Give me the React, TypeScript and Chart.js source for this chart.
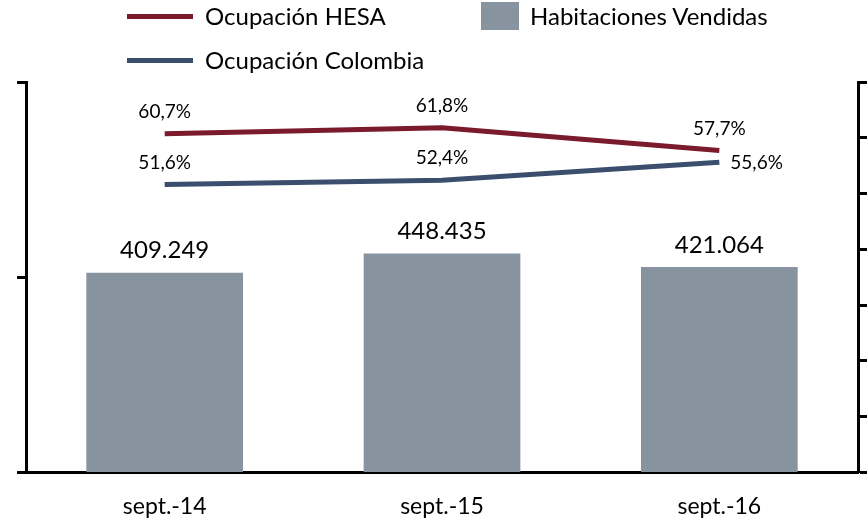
import React, { useEffect, useRef } from "react";
import { Chart, registerables } from "chart.js";

Chart.register(...registerables);

const categories = ["sept.-14", "sept.-15", "sept.-16"];
const habitacionesVendidas = [409249, 448435, 421064];
const ocupacionHESA = [60.7, 61.8, 57.7];
const ocupacionColombia = [51.6, 52.4, 55.6];
const seriesNames = ["Ocupación HESA", "Habitaciones Vendidas", "Ocupación Colombia"];

const RED = "#7b1a2c";
const BLUE = "#3b4e6d";
const GRAY = "#87939e";
const FONT = "Lato, 'Open Sans', sans-serif";

const fmtThousands = (v: number) =>
  Math.round(v).toString().replace(/\B(?=(\d{3})+(?!\d))/g, ".");
const fmtPct = (v: number) => v.toFixed(1).replace(".", ",") + "%";

const labelPlugin = {
  id: "valueLabels",
  afterDatasetsDraw(chart: any) {
    const ctx = chart.ctx;
    ctx.save();
    ctx.fillStyle = "#000";
    chart.data.datasets.forEach((ds: any, i: number) => {
      const meta = chart.getDatasetMeta(i);
      meta.data.forEach((el: any, j: number) => {
        const v = ds.data[j];
        if (ds.type === "bar") {
          ctx.font = `24px ${FONT}`;
          ctx.textAlign = "center";
          ctx.textBaseline = "middle";
          ctx.fillText(fmtThousands(v), el.x, el.y - 22);
        } else {
          ctx.font = `19px ${FONT}`;
          const pos = (ds.labelPos && ds.labelPos[j]) || "top";
          if (pos === "right") {
            ctx.textAlign = "left";
            ctx.textBaseline = "middle";
            ctx.fillText(fmtPct(v), el.x + 11, el.y + 1);
          } else {
            ctx.textAlign = "center";
            ctx.textBaseline = "middle";
            ctx.fillText(fmtPct(v), el.x, el.y - 22);
          }
        }
      });
    });
    ctx.restore();
  },
};

export default function App() {
  const ref = useRef<HTMLCanvasElement>(null);

  useEffect(() => {
    document.body.style.margin = "0";
    const chart = new Chart(ref.current as HTMLCanvasElement, {
      type: "bar",
      data: {
        labels: categories,
        datasets: [
          {
            type: "line",
            label: seriesNames[0],
            data: ocupacionHESA,
            borderColor: RED,
            backgroundColor: RED,
            borderWidth: 5,
            pointRadius: 0,
            yAxisID: "y1",
            order: 1,
            borderCapStyle: "butt",
          } as any,
          {
            type: "bar",
            label: seriesNames[1],
            data: habitacionesVendidas,
            backgroundColor: GRAY,
            yAxisID: "y",
            order: 2,
            categoryPercentage: 1,
            barPercentage: 0.565,
          } as any,
          {
            type: "line",
            label: seriesNames[2],
            data: ocupacionColombia,
            borderColor: BLUE,
            backgroundColor: BLUE,
            borderWidth: 5,
            pointRadius: 0,
            yAxisID: "y1",
            order: 1,
            borderCapStyle: "butt",
            labelPos: ["top", "top", "right"],
          } as any,
        ],
      },
      options: {
        responsive: false,
        animation: false,
        layout: { padding: { top: 82, left: 17, right: 1, bottom: -22 } },
        plugins: {
          legend: { display: false },
          tooltip: { enabled: false },
        },
        scales: {
          x: {
            grid: { display: false, drawTicks: false },
            border: { display: true, color: "#000", width: 3 },
            ticks: { color: "#000", font: { size: 23, family: FONT }, padding: 20 },
          },
          y: {
            position: "left",
            min: 0,
            max: 800000,
            ticks: { display: false, stepSize: 400000 },
            grid: {
              drawOnChartArea: false,
              drawTicks: true,
              tickLength: 9,
              tickColor: "#000",
              tickWidth: 3,
            },
            border: { display: true, color: "#000", width: 3 },
          },
          y1: {
            position: "right",
            min: 0,
            max: 70,
            ticks: { display: false, stepSize: 10 },
            grid: {
              drawOnChartArea: false,
              drawTicks: true,
              tickLength: 9,
              tickColor: "#000",
              tickWidth: 3,
            },
            border: { display: true, color: "#000", width: 3 },
          },
        },
      } as any,
      plugins: [labelPlugin],
    });
    return () => chart.destroy();
  }, []);

  const textStyle: React.CSSProperties = {
    position: "absolute",
    fontFamily: FONT,
    fontSize: 24,
    color: "#000",
    lineHeight: "28px",
    whiteSpace: "nowrap",
  };

  return (
    <div style={{ position: "fixed", left: 0, top: 0, width: 868, height: 518, background: "#fff", overflow: "hidden" }}>
      <canvas ref={ref} width={868} height={518} style={{ position: "absolute", left: 0, top: 0 }} />
      <div style={{ position: "absolute", left: 127, top: 14, width: 66, height: 5, background: RED }} />
      <div style={{ ...textStyle, left: 205, top: 2 }}>{seriesNames[0]}</div>
      <div style={{ position: "absolute", left: 481, top: 2, width: 38, height: 28, background: GRAY }} />
      <div style={{ ...textStyle, left: 530, top: 2 }}>{seriesNames[1]}</div>
      <div style={{ position: "absolute", left: 127, top: 58, width: 66, height: 5, background: BLUE }} />
      <div style={{ ...textStyle, left: 205, top: 46 }}>{seriesNames[2]}</div>
    </div>
  );
}
